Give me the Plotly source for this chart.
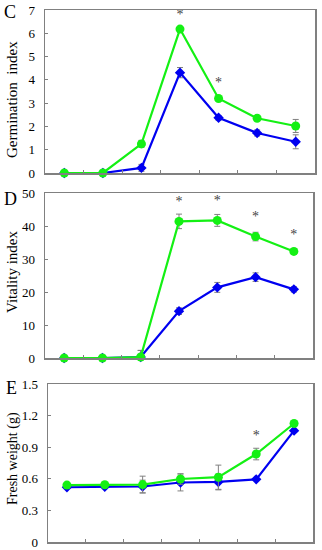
import plotly.graph_objects as go

x_pos = [0, 1, 2, 3, 4, 5, 6]

# Panel C: Germination index
gi_green = [0, 0, 1.25, 6.18, 3.2, 2.35, 2.02]
gi_green_err = [0, 0, 0.15, 0.1, 0.06, 0.08, 0.28]
gi_blue = [0, 0, 0.22, 4.31, 2.37, 1.72, 1.34]
gi_blue_err = [0, 0, 0.15, 0.22, 0.1, 0.13, 0.3]
gi_star_x = [3, 4]
gi_star_y = [6.75, 3.85]

# Panel D: Vitality index
vi_green = [0, 0, 0.3, 41.4, 41.7, 36.8, 32.3]
vi_green_err = [0, 0, 2.0, 2.2, 1.8, 1.3, 0.8]
vi_blue = [0, 0, 0.3, 14.2, 21.4, 24.5, 20.8]
vi_blue_err = [0, 0, 2.0, 1.0, 1.5, 1.3, 0.8]
vi_star_x = [3, 4, 5, 6]
vi_star_y = [47.0, 47.3, 42.5, 37.0]

# Panel E: Fresh weight
fw_green = [0.54, 0.543, 0.545, 0.598, 0.615, 0.835, 1.125]
fw_green_err = [0.01, 0.01, 0.08, 0.05, 0.115, 0.055, 0.015]
fw_blue = [0.52, 0.525, 0.527, 0.565, 0.57, 0.595, 1.057]
fw_blue_err = [0.01, 0.01, 0.06, 0.08, 0.075, 0.01, 0.01]
fw_star_x = [5]
fw_star_y = [1.0]

GREEN = "#14F014"
BLUE = "#0000F0"
GREY = "#808080"
SERIF = "Liberation Serif, Times New Roman, serif"

fig = go.Figure()

panels = [
    (gi_green, gi_green_err, gi_blue, gi_blue_err, gi_star_x, gi_star_y, "x", "y"),
    (vi_green, vi_green_err, vi_blue, vi_blue_err, vi_star_x, vi_star_y, "x2", "y2"),
    (fw_green, fw_green_err, fw_blue, fw_blue_err, fw_star_x, fw_star_y, "x3", "y3"),
]

for g, ge, b, be, sx, sy, xa, ya in panels:
    fig.add_trace(go.Scatter(
        x=x_pos, y=b, mode="lines+markers", xaxis=xa, yaxis=ya,
        line=dict(color=BLUE, width=2.2),
        marker=dict(symbol="diamond", size=8, color=BLUE),
        error_y=dict(type="data", array=be, color=GREY, thickness=1, width=3),
        showlegend=False, cliponaxis=False))
    fig.add_trace(go.Scatter(
        x=x_pos, y=g, mode="lines+markers", xaxis=xa, yaxis=ya,
        line=dict(color=GREEN, width=2.2),
        marker=dict(symbol="circle", size=9, color=GREEN),
        error_y=dict(type="data", array=ge, color=GREY, thickness=1, width=3),
        showlegend=False, cliponaxis=False))
    fig.add_trace(go.Scatter(
        x=sx, y=sy, mode="text", text=["*"] * len(sx), xaxis=xa, yaxis=ya,
        textfont=dict(family=SERIF, size=14, color="#444444"),
        showlegend=False, cliponaxis=False, hoverinfo="skip"))

W, H = 322, 550

def xd(l, r):
    return [l / W, r / W]

def yd(t, b):
    return [1 - b / H, 1 - t / H]

xcommon = dict(range=[-0.5, 6.5], tickvals=[0.5, 1.5, 2.5, 3.5, 4.5, 5.5],
               ticks="inside", ticklen=3, tickcolor=GREY, showticklabels=False,
               showline=True, linecolor=GREY, linewidth=1.5, mirror=True,
               showgrid=False, zeroline=False, fixedrange=True, automargin=False)
ycommon = dict(ticks="inside", ticklen=3, tickcolor=GREY,
               showline=True, linecolor=GREY, linewidth=1.5, mirror=True,
               showgrid=False, zeroline=False, ticklabelstandoff=6, automargin=False,
               tickfont=dict(family=SERIF, size=13, color="#000000"))

fig.update_layout(
    width=W, height=H, margin=dict(l=0, r=0, t=0, b=0, autoexpand=False),
    paper_bgcolor="white", plot_bgcolor="white",
    xaxis=dict(domain=xd(45, 315), anchor="y", **xcommon),
    yaxis=dict(domain=yd(10, 173), anchor="x", range=[0, 7], dtick=1, **ycommon),
    xaxis2=dict(domain=xd(45, 313), anchor="y2", **xcommon),
    yaxis2=dict(domain=yd(193, 358), anchor="x2", range=[0, 50], dtick=10, **ycommon),
    xaxis3=dict(domain=xd(48, 313), anchor="y3", **xcommon),
    yaxis3=dict(domain=yd(384, 542), anchor="x3", range=[0, 1.5],
                tickvals=[0, 0.3, 0.6, 0.9, 1.2, 1.5],
                ticktext=["0", "0.3", "0.6", "0.9", "1.2", "1.5"], **ycommon),
)

def ann(text, x, y, size, angle=0):
    fig.add_annotation(text=text, x=x / W, y=1 - y / H, xref="paper", yref="paper",
                       xanchor="center", yanchor="middle",
                       showarrow=False, textangle=angle,
                       font=dict(family=SERIF, size=size, color="#000000"))

ann("C", 10, 12, 18)
ann("D", 10, 199, 18)
ann("E", 11, 388, 18)
ann("Germination  index", 12, 100, 15, -90)
ann("Vitality index", 12, 272, 15, -90)
ann("Fresh weight (g)", 13, 459, 14, -90)

fig.write_html("out.html",
               config={"displayModeBar": False, "staticPlot": True},
               post_script="document.body.style.margin='0';document.body.style.overflow='hidden';")
